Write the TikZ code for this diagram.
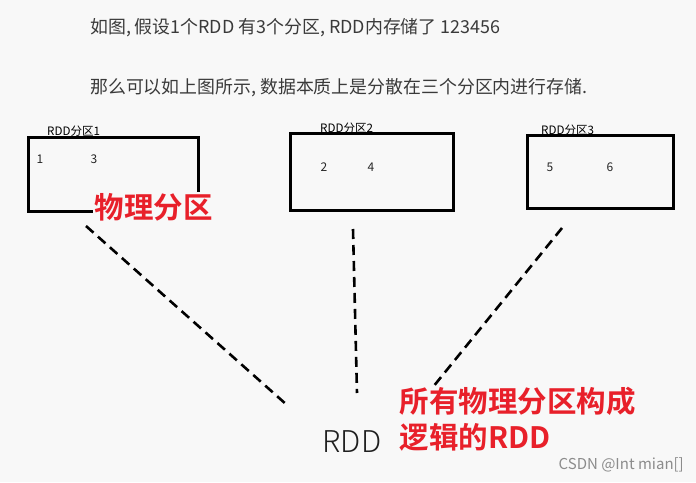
\documentclass[tikz,border=0pt]{standalone}
\usepackage{fontspec}
\setmainfont{Noto Sans CJK SC}
\newfontfamily\cjkbold[BoldFont={Noto Sans CJK SC Bold}]{Noto Sans CJK SC}
\newfontfamily\cjklight{Noto Sans CJK SC Light}
\definecolor{bgc}{HTML}{F8F8F8}
\definecolor{txt}{HTML}{3A3A3A}
\definecolor{redc}{HTML}{E8202A}
\tikzset{
  plain/.style={inner sep=0pt, text=txt, font=\fontsize{17.9}{21}\selectfont, anchor=west},
  part/.style={draw=black, line width=3pt, minimum width=0pt},
  plabel/.style={inner sep=0pt, text=black, font=\fontsize{11.6}{13}\selectfont},
  num/.style={inner sep=0pt, text=black!85, font=\fontsize{12}{14}\selectfont},
  redtxt/.style={inner sep=1.5pt, anchor=west, text=redc, font=\fontsize{29.5}{36}\selectfont\cjkbold\bfseries, align=left},
  link/.style={line width=2.6pt, dash pattern=on 10pt off 6pt}
}
\begin{document}
\begin{tikzpicture}[x=1pt,y=-1pt]
\useasboundingbox[fill=bgc] (0,0) rectangle (696,482);
\node[plain] (l1) at (90,28) {如图, 假设1个RDD 有3个分区, RDD内存储了 123456};
\node[plain] (l2) at (90,88) {那么可以如上图所示, 数据本质上是分散在三个分区内进行存储.};
% partitions
\draw[part] (28,137) rectangle (198,211);
\draw[part] (290,133) rectangle (453,210);
\draw[part] (527,135) rectangle (673,208);
\node[plabel, anchor=west] (p1) at (47,131) {RDD分区1};
\node[plabel, anchor=west] (p2) at (320,128) {RDD分区2};
\node[plabel, anchor=west] (p3) at (541,130) {RDD分区3};
\node[num] (n1) at (40,159) {1};
\node[num] (n3) at (94,159) {3};
\node[num] (n2) at (324,167) {2};
\node[num] (n4) at (371,167) {4};
\node[num] (n5) at (550,167) {5};
\node[num] (n6) at (610,167) {6};
% connectors
\coordinate (s1) at (86,226);
\coordinate (e1) at (287,405);
\coordinate (s2) at (353,229);
\coordinate (e2) at (357,393);
\coordinate (s3) at (562,228);
\coordinate (e3) at (433,387);
\draw[link] (s1) -- (e1);
\draw[link] (s2) -- (e2);
\draw[link] (s3) -- (e3);
\node[inner sep=0pt, text=black!88, font=\fontsize{30}{34}\selectfont\cjklight] (rdd) at (352,442) {RDD};
% red labels
\node[redtxt, fill=bgc] (phys) at (93,207) {物理分区};
\node[redtxt] (r1) at (398,401) {所有物理分区构成};
\node[redtxt] (r2) at (398,437) {逻辑的RDD};
\node[inner sep=0pt, anchor=east, text=black!45, font=\fontsize{15}{17}\selectfont] (csdn) at (684,465) {CSDN @Int mian[]};
\end{tikzpicture}
\end{document}
